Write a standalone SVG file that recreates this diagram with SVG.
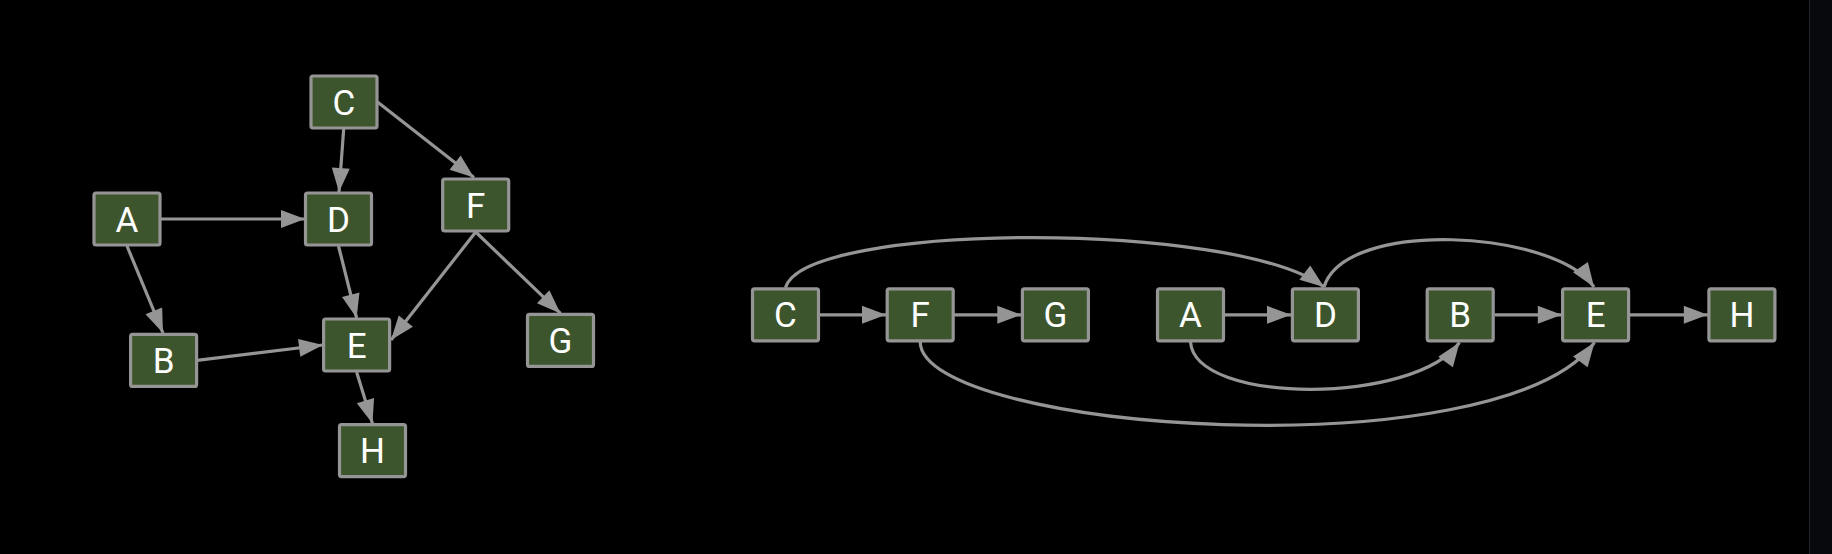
<svg xmlns="http://www.w3.org/2000/svg" width="1832" height="554" viewBox="0 0 1832 554">
<style>
.node rect{fill:#3d552d;stroke:#959595;stroke-width:3.2}
.node text{fill:#ffffff;font-family:Roboto,"Liberation Sans",sans-serif;font-size:35px;text-anchor:middle}
.edge{fill:none;stroke:#959595;stroke-width:3.2}
</style>
<defs>
<marker id="arr" markerUnits="userSpaceOnUse" markerWidth="24" markerHeight="18" refX="24" refY="9" orient="auto" overflow="visible">
<path d="M0,0 L24,9 L0,18 z" fill="#959595"/>
</marker>
</defs>
<rect x="0" y="0" width="1832" height="554" fill="#000000"/>
<rect x="1809" y="0" width="23" height="554" fill="#08090c"/>
<line x1="1809.5" y1="0" x2="1809.5" y2="554" stroke="#1f2126" stroke-width="1"/>

<g id="connectors">
<path class="edge" marker-end="url(#arr)" d="M343.7,129 L339,192"/>
<path class="edge" marker-end="url(#arr)" d="M377.5,102 L474,177.5"/>
<path class="edge" marker-end="url(#arr)" d="M160.5,219 L305,219"/>
<path class="edge" marker-end="url(#arr)" d="M127,246 L163,333"/>
<path class="edge" marker-end="url(#arr)" d="M338.5,246 L356.6,318"/>
<path class="edge" marker-end="url(#arr)" d="M197,360.4 L323,345"/>
<path class="edge" marker-end="url(#arr)" d="M475.7,232 L391,340"/>
<path class="edge" marker-end="url(#arr)" d="M475.7,232 L560.5,313.4"/>
<path class="edge" marker-end="url(#arr)" d="M356.6,372 L372.5,423.6"/>
<path class="edge" marker-end="url(#arr)" d="M819.5,314.8 L886,314.8"/>
<path class="edge" marker-end="url(#arr)" d="M954,314.8 L1021.3,314.8"/>
<path class="edge" marker-end="url(#arr)" d="M1224.5,314.8 L1291,314.8"/>
<path class="edge" marker-end="url(#arr)" d="M1494.5,314.8 L1561.8,314.8"/>
<path class="edge" marker-end="url(#arr)" d="M1629.5,314.8 L1707.8,314.8"/>
<path class="edge" marker-end="url(#arr)" d="M785.5,287.5 C805,222 1235,220 1324,287"/>
<path class="edge" marker-end="url(#arr)" d="M1324,287 C1345,218 1555,230 1594,287"/>
<path class="edge" marker-end="url(#arr)" d="M1190.5,342 C1195,405 1415,405 1459.5,342.5"/>
<path class="edge" marker-end="url(#arr)" d="M920.2,342 C922,432 1500,472 1594.5,342.5"/>
</g>

<g id="node-left-A" class="node"><rect x="94" y="193" width="66" height="52" rx="2"/><text x="127" y="231.6">A</text></g>
<g id="node-left-B" class="node"><rect x="130.6" y="334.4" width="66" height="52" rx="2"/><text x="163.6" y="373">B</text></g>
<g id="node-left-C" class="node"><rect x="311" y="76" width="66" height="52" rx="2"/><text x="344" y="114.6">C</text></g>
<g id="node-left-D" class="node"><rect x="305.5" y="193" width="66" height="52" rx="2"/><text x="338.5" y="231.6">D</text></g>
<g id="node-left-E" class="node"><rect x="323.6" y="319" width="66" height="52" rx="2"/><text x="356.6" y="357.6">E</text></g>
<g id="node-left-F" class="node"><rect x="442.7" y="179" width="66" height="52" rx="2"/><text x="475.7" y="217.6">F</text></g>
<g id="node-left-G" class="node"><rect x="527.5" y="314.4" width="66" height="52" rx="2"/><text x="560.5" y="353">G</text></g>
<g id="node-left-H" class="node"><rect x="339.5" y="424.6" width="66" height="52" rx="2"/><text x="372.5" y="463.2">H</text></g>

<g id="node-right-C" class="node"><rect x="752.5" y="288.8" width="66" height="52" rx="2"/><text x="785.5" y="327.4">C</text></g>
<g id="node-right-F" class="node"><rect x="887.2" y="288.8" width="66" height="52" rx="2"/><text x="920.2" y="327.4">F</text></g>
<g id="node-right-G" class="node"><rect x="1022.4" y="288.8" width="66" height="52" rx="2"/><text x="1055.4" y="327.4">G</text></g>
<g id="node-right-A" class="node"><rect x="1157.5" y="288.8" width="66" height="52" rx="2"/><text x="1190.5" y="327.4">A</text></g>
<g id="node-right-D" class="node"><rect x="1292.4" y="288.8" width="66" height="52" rx="2"/><text x="1325.4" y="327.4">D</text></g>
<g id="node-right-B" class="node"><rect x="1427.2" y="288.8" width="66" height="52" rx="2"/><text x="1460.2" y="327.4">B</text></g>
<g id="node-right-E" class="node"><rect x="1562.6" y="288.8" width="66" height="52" rx="2"/><text x="1595.6" y="327.4">E</text></g>
<g id="node-right-H" class="node"><rect x="1708.9" y="288.8" width="66" height="52" rx="2"/><text x="1741.9" y="327.4">H</text></g>
</svg>
